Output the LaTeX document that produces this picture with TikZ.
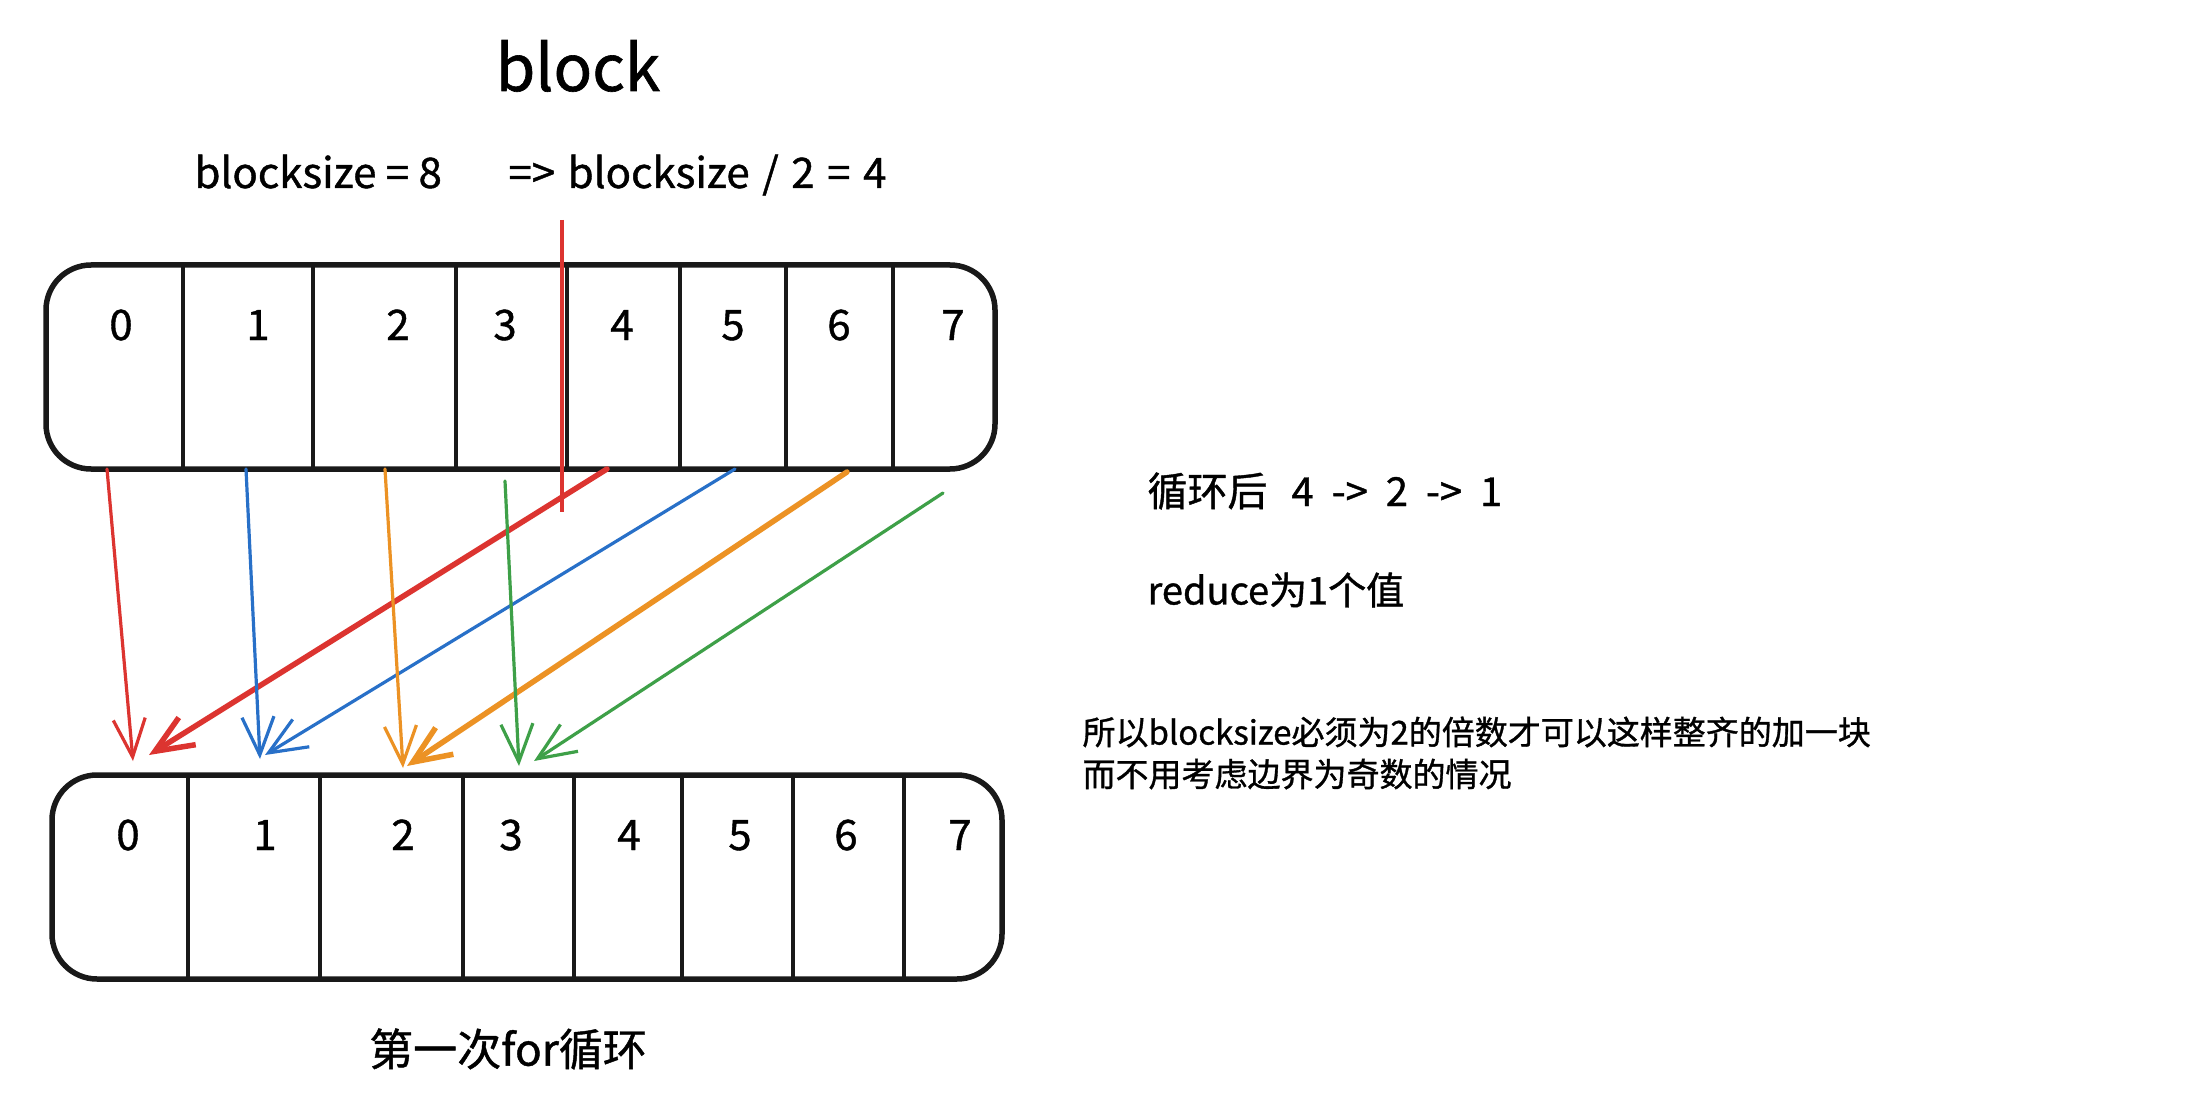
\documentclass[tikz,border=0pt]{standalone}
\usepackage{fontspec}
\setmainfont{Noto Sans CJK SC}[FakeBold=1]
\usepackage{tikz}
\usetikzlibrary{arrows.meta, positioning, calc, fit}
\definecolor{exred}{RGB}{220, 52, 48}
\definecolor{exblue}{RGB}{40, 112, 200}
\definecolor{exorange}{RGB}{236, 146, 36}
\definecolor{exgreen}{RGB}{62, 160, 72}

\begin{document}
\begin{tikzpicture}[x=1pt, y=-1pt,
  cell/.style={rectangle, inner sep=0pt, outer sep=0pt, minimum height=204pt},
  frame/.style={draw=black!90, line width=5.5pt, rounded corners=45pt, inner sep=0pt},
  sep/.style={draw=black!90, line width=4pt},
  num/.style={anchor=base, font=\fontsize{42}{50}\selectfont},
  arr/.style={-{Straight Barb[length=38pt, width=32pt]}, line width=3.2pt, line cap=round, line join=round},
  thickarr/.style={arr, line width=5.5pt},
  note/.style={anchor=west, align=left, font=\fontsize{40}{48}\selectfont},
  small/.style={anchor=west, align=left, font=\fontsize{33}{42}\selectfont}
]
  \fill[white] (0,0) rectangle (2188,1094);
  \useasboundingbox (0,0) rectangle (2188,1094);

  % titles
  \node[anchor=base, font=\fontsize{64}{76}\selectfont] (title) at (578, 91) {block};
  \node[anchor=base west, font=\fontsize{42}{50}\selectfont] (size) at (191, 188) {blocksize = 8};
  \node[anchor=base west, font=\fontsize{42}{50}\selectfont] (half) at (505, 188)
    {=>\hspace{.3em}blocksize\hspace{.3em}/\hspace{.3em}2\hspace{.3em}=\hspace{.3em}4};

  % top array
  \foreach \i/\l/\r/\x in {0/46/183/121, 1/183/313/258, 2/313/456/398, 3/456/567/505,
                           4/567/680/622, 5/680/786/733, 6/786/893/839, 7/893/995/953}{
    \node[cell, minimum width={(\r-\l)*1pt}] (t\i) at ({(\l+\r)/2}, 367) {};
    \node[num] (tn\i) at (\x, 340) {\i};
  }
  \node[frame, fit=(t0)(t7)] (topbox) {};
  \foreach \i in {0,...,6} \draw[sep] (t\i.north east) -- (t\i.south east);

  % bottom array
  \foreach \i/\l/\r/\x in {0/52/188/128, 1/188/320/265, 2/320/463/403, 3/463/574/511,
                           4/574/682/629, 5/682/793/740, 6/793/904/846, 7/904/1002/960}{
    \node[cell, minimum width={(\r-\l)*1pt}] (b\i) at ({(\l+\r)/2}, 877) {};
    \node[num] (bn\i) at (\x, 850) {\i};
  }
  \node[frame, fit=(b0)(b7)] (botbox) {};
  \foreach \i in {0,...,6} \draw[sep] (b\i.north east) -- (b\i.south east);

  % half split mark
  \draw[exred, line width=3.5pt] (562, 220) -- (562, 512);

  % first loop
  \draw[arr, exred] ([xshift=-7.5pt]t0.south) -- ([xshift=13pt, yshift=14pt]b0.north);
  \draw[thickarr, exred] ([xshift=-16.5pt]t4.south) -- ([xshift=29pt, yshift=20pt]b0.north);
  \draw[arr, exblue] ([xshift=-2pt]t1.south) -- ([xshift=6pt, yshift=16pt]b1.north);
  \draw[arr, exblue] ([xshift=2pt]t5.south) -- ([xshift=11pt, yshift=20pt]b1.north);
  \draw[arr, exorange] ([xshift=0.5pt]t2.south) -- ([xshift=11.5pt, yshift=7pt]b2.north);
  \draw[thickarr, exorange] ([xshift=7.5pt, yshift=-3pt]t6.south) -- ([xshift=15.5pt, yshift=9pt]b2.north);
  \draw[arr, exgreen] ([xshift=-6.5pt, yshift=-12pt]t3.south) -- ([xshift=0.5pt, yshift=9pt]b3.north);
  \draw[arr, exgreen] ([xshift=-1pt, yshift=-24pt]t7.south) -- ([xshift=15.5pt, yshift=14pt]b3.north);

  % notes
  \node[note] (after) at (1144, 491)
    {循环后\hspace{0.6em}4\hspace{.45em}->\hspace{.45em}2\hspace{.45em}->\hspace{.45em}1};
  \node[note, font=\fontsize{38}{46}\selectfont] (reduce) at (1144, 590) {reduce为1个值};
  \node[small] (why) at (1079, 753) {所以blocksize必须为2的倍数才可以这样整齐的加一块\\而不用考虑边界为奇数的情况};
  \node[font=\fontsize{44}{52}\selectfont] (loop) at (508, 1049) {第一次for循环};
\end{tikzpicture}
\end{document}
